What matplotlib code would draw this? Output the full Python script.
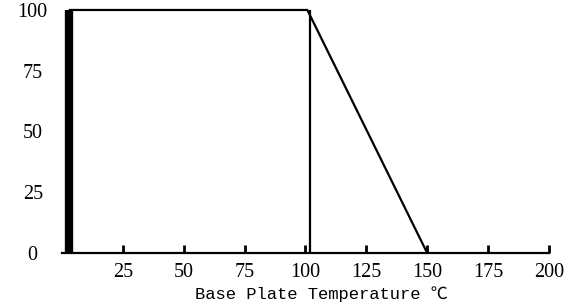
import matplotlib
matplotlib.use("Agg")
import matplotlib.pyplot as plt

# derating curve
temp = [2.8, 100.8, 150]
power = [100, 100, 0]
bar_x = 2.8          # thick bar on the left
limit_x = 102        # vertical line near 100
x_ticks = [25, 50, 75, 100, 125, 150, 175, 200]
y_ticks = [0, 25, 50, 75, 100]

fig = plt.figure(figsize=(5.73, 3.08), dpi=100)
ax = fig.add_axes([0.108, 0.1786, 0.850, 0.789])

ax.plot(temp, power, color='black', lw=1.6, clip_on=False, solid_capstyle='butt')
ax.plot([bar_x, bar_x], [0, 100], color='black', lw=6, clip_on=False, solid_capstyle='butt')
ax.plot([limit_x, limit_x], [0, 100], color='black', lw=1.6, clip_on=False, solid_capstyle='butt')

ax.set_xlim(0, 200)
ax.set_ylim(0, 100)
for s in ['top', 'right', 'left']:
    ax.spines[s].set_visible(False)
ax.spines['bottom'].set_linewidth(1.6)

ax.set_xticks(x_ticks)
ax.set_xticklabels([str(t) for t in x_ticks], family='Liberation Serif', fontsize=14.5)
ax.tick_params(axis='x', direction='in', length=6, width=2, pad=7.5)
ax.set_yticks(y_ticks)
ax.set_yticklabels([str(t) for t in y_ticks], family='Liberation Serif', fontsize=14.5, ha='center')
ax.tick_params(axis='y', length=0, pad=21)

ax.set_xlabel('Base Plate Temperature ℃', family=['Liberation Mono', 'DejaVu Sans Mono', 'Noto Sans CJK SC'],
              fontsize=12.3)
ax.xaxis.set_label_coords(0.533, -0.135)

fig.savefig('out.png', dpi=100)
